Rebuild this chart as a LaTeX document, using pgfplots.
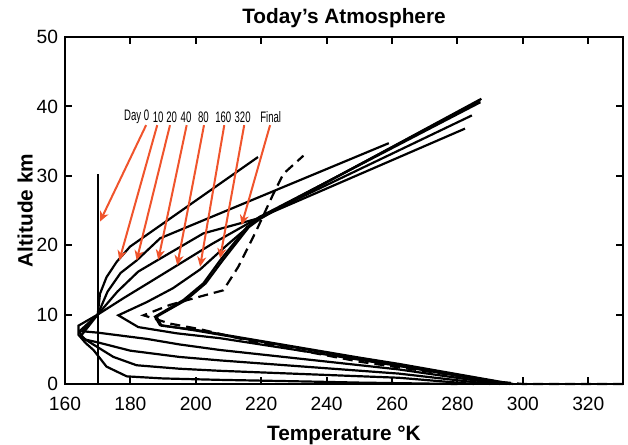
\documentclass[border=0pt]{standalone}
\usepackage{fontspec}
\setmainfont{Liberation Sans}
\usepackage{graphicx}
\usepackage{pgfplots}
\pgfplotsset{compat=1.18}
\usetikzlibrary{arrows.meta}
\definecolor{arr}{RGB}{240,84,44}
\newcommand{\lbl}[1]{\scalebox{0.63}[1]{#1}}

\begin{document}
\begin{tikzpicture}
\begin{axis}[
  scale only axis, width=279pt, height=173.5pt,
  xmin=160, xmax=330.6, ymin=0, ymax=50,
  xtick={160,180,...,320}, ytick={0,10,...,50},
  tick align=inside, major tick length=3.5pt,
  axis line style={line width=1pt},
  tick style={line width=1pt, black},
  ticklabel style={font=\fontsize{9.6}{11}\selectfont},
  /pgf/number format/assume math mode=true,
  xticklabel style={yshift=-3pt},
  title={Today’s Atmosphere},
  title style={font=\bfseries\fontsize{10.4}{12}\selectfont, yshift=-5pt},
  xlabel={Temperature °K}, ylabel={Altitude km},
  label style={font=\bfseries\fontsize{10.4}{12}\selectfont},
  xlabel style={yshift=-1pt},
  ylabel style={yshift=-5pt},
  cycle list={{black, solid}},
  every axis plot/.append style={line width=1.1pt, no markers},
  clip=false,
]
% day 0 (isothermal)
\addplot coordinates {(170,0) (170,30.2)};
% day 10
\addplot coordinates {(280,0) (250,0.2) (235,0.35) (207,0.6) (190,0.8) (178.9,1.1)
  (172.7,2.5) (168.7,4.9) (166.3,5.9) (164.1,7.1) (164.1,8.4) (170,10) (170.7,13)
  (172.7,15.4) (175.8,17.6) (179.9,19.8) (219,32.7)};
% day 20
\addplot coordinates {(285,0) (262,0.9) (207.4,1.9) (195,2.2) (181.9,2.7) (174.8,3.9)
  (167.6,6.0) (165.3,6.7) (164.4,7.6) (170,10) (173,13.3) (177,16) (181.9,17.8)
  (189.1,21) (259,34.7)};
% day 40
\addplot coordinates {(290,0) (262,1.5) (207.4,3.4) (195,3.9) (180,4.8) (170,6.0)
  (166.2,6.4) (165,7.0) (170,10) (176,13.3) (182.4,16.2) (188.5,17.9) (202.3,21.7)
  (218.6,23.8) (282.3,36.8)};
% day 80
\addplot coordinates {(293,0) (262,2.1) (207.4,4.9) (195,5.7) (185,6.5) (170,7.4)
  (165.3,7.6) (170,10) (178,12.4) (186,14.7) (194.3,17.1) (205,20.2) (219.3,24)
  (284.4,38.7)};
% day 160
\addplot coordinates {(295,0) (262,2.6) (250,3.5) (207.4,6.6) (194.2,7.3) (182.4,8.2)
  (176.3,9.9) (185,11.8) (193,13.8) (201.3,16.5) (209,19.8) (219.6,24.1) (287,40.6)};
% day 320
\addplot coordinates {(296,0) (262,2.8) (250,3.7) (207.4,7.1) (200,7.7) (189,8.5)
  (187.5,9.7) (196.2,12.1) (202.3,14.5) (207.4,17.8) (215.6,22.6) (219.1,23.8)
  (225.7,25.5) (287,40.9)};
% final
\addplot coordinates {(297,0) (262,2.9) (250,3.8) (207.4,7.2) (200,7.8) (189.5,8.4)
  (188,9.7) (197,12.1) (203,14.5) (208.2,17.8) (216.2,22.6) (219.7,23.8)
  (226,25.5) (287.3,41.1)};
% observed
\addplot[black, dash pattern=on 5pt off 3pt] coordinates {(330.6,0) (300,0) (293,0.3)
  (250.2,3.2) (215.6,6.3) (201.3,7.9) (192.1,8.7) (184,9.9) (192.1,11.4) (201.3,12.6)
  (208.4,13.5) (213,16.9) (218.6,22.2) (223.7,27.4) (226.8,30.3) (232.9,32.9)};

% arrows
\begin{scope}[arr, line width=1pt, -{Stealth[length=5pt,width=4.5pt,inset=1.5pt]}]
\draw (184.8,37.3) -- (170.7,23.4);
\draw (188.2,37.3) -- (176.6,17.8);
\draw (192.1,37.3) -- (181.9,17.8);
\draw (197.2,37.3) -- (188.5,17.9);
\draw (202.5,37.3) -- (194.3,17.1);
\draw (208.7,37.3) -- (201.3,16.9);
\draw (214.8,37.3) -- (207.4,18.1);
\draw (222.7,37.3) -- (214.0,22.9);
\end{scope}
\begin{scope}[every node/.style={font=\fontsize{7.6}{8}\selectfont, inner sep=0pt}]
\node at (181.9,38.5) {\lbl{Day 0}};
\node at (188.5,38.5) {\lbl{10}};
\node at (192.6,38.5) {\lbl{20}};
\node at (197.0,38.5) {\lbl{40}};
\node at (202.3,38.5) {\lbl{80}};
\node at (208.4,38.5) {\lbl{160}};
\node at (214.3,38.5) {\lbl{320}};
\node at (222.9,38.5) {\lbl{Final}};
\end{scope}
\end{axis}
\pgfresetboundingbox
\path ([shift={(-32.5pt,-30.5pt)}]current axis.south west)
  rectangle ([shift={(2.5pt,18.5pt)}]current axis.north east);
\end{tikzpicture}
\end{document}
